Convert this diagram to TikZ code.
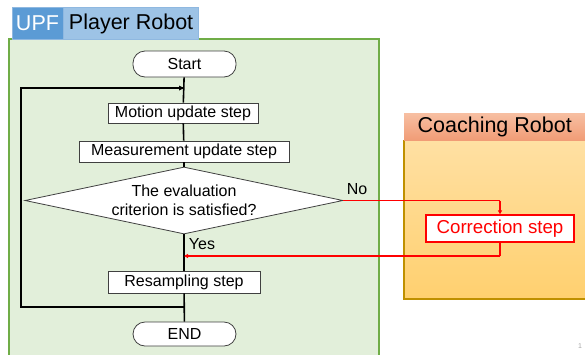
\documentclass[tikz,border=0pt]{standalone}
\usepackage{fontspec}
\setmainfont{Liberation Sans}
\usetikzlibrary{shapes.geometric,arrows.meta}
\definecolor{upfblue}{HTML}{5B9BD5}
\definecolor{upfborder}{HTML}{8FB8E0}
\definecolor{playerblue}{HTML}{9DC3E6}
\definecolor{greenfill}{HTML}{E2EFDA}
\definecolor{greenline}{HTML}{70AD47}
\definecolor{salmontop}{HTML}{F7BFA2}
\definecolor{salmonbot}{HTML}{F19C76}
\definecolor{orangetop}{HTML}{FFE0A3}
\definecolor{orangebot}{HTML}{FFD06F}
\definecolor{goldline}{HTML}{BF9000}
\definecolor{boxline}{HTML}{404040}
\definecolor{redline}{HTML}{FF0000}
\tikzset{
  mainfont/.style={font=\fontsize{16}{19.5}\selectfont},
  stepbox/.style={draw=boxline, line width=0.8pt, fill=white, inner sep=0pt, mainfont},
  termbox/.style={stepbox, rounded corners=12pt},
  flow/.style={line width=1.6pt, black},
  redflow/.style={line width=1.2pt, redline},
  tip/.style={-{Triangle[length=4pt,width=4pt]}},
}
\begin{document}
\begin{tikzpicture}[x=1pt,y=-1pt]
\useasboundingbox (0,0) rectangle (585,354);
% Player robot frame
\fill[greenfill] (9,39) rectangle (379,360);
\draw[greenline, line width=1.6pt] (9,360) -- (9,39) -- (379,39) -- (379,360);
\node[draw=upfborder, line width=0.6pt, fill=upfblue, text=white, font=\fontsize{21.5}{24}\selectfont,
      minimum width=51pt, minimum height=32pt, inner sep=0pt] (upf) at (37.5,23.5) {UPF};
\node[draw=upfborder, line width=0.6pt, fill=playerblue, text=black, font=\fontsize{21.5}{24}\selectfont,
      minimum width=135pt, minimum height=32pt, inner sep=0pt, anchor=west] (player) at (upf.east) {Player Robot};
% Coaching robot frame
\shade[top color=orangetop, bottom color=orangebot] (404,140) rectangle (585,299);
\draw[goldline, line width=1.2pt] (404,140) -- (404,299) -- (590,299);
\node[top color=salmontop, bottom color=salmonbot, font=\fontsize{21.5}{24}\selectfont,
      minimum width=181pt, minimum height=27pt, inner sep=0pt, anchor=north west] (coachhead) at (404,113) {Coaching Robot};
% Flow nodes
\node[termbox, minimum width=103pt, minimum height=26pt] (start) at (184.5,64) {Start};
\node[stepbox, minimum width=150pt, minimum height=20pt] (motion) at (183,113) {Motion update step};
\node[stepbox, minimum width=210pt, minimum height=21pt] (meas) at (184,151.5) {Measurement update step};
\node[stepbox, shape=diamond, aspect=4.75, minimum width=318pt, minimum height=67pt, align=center] (crit) at (184,200.5) {The evaluation\\criterion is satisfied?};
\node[stepbox, minimum width=152pt, minimum height=22pt] (resamp) at (184,282) {Resampling step};
\node[termbox, minimum width=103pt, minimum height=24pt] (end) at (184.5,334) {END};
\node[draw=redline, line width=1.3pt, fill=white, text=redline, font=\fontsize{18.7}{22}\selectfont,
      minimum width=148pt, minimum height=27pt, inner sep=0pt] (corr) at (500,228.5) {Correction step};
% coordinates
\coordinate (loopjoin) at (184,88);
\coordinate (loopend) at (184,307);
\coordinate (loopL) at (21,307);
\coordinate (loopT) at (21,88);
\coordinate (nocorner) at (500,200.5);
\coordinate (retcorner) at (500,256);
\coordinate (retjoin) at (184,256);
% main flow
\draw[flow] (start) -- (motion);
\draw[flow] (motion) -- (meas);
\draw[flow] (meas) -- (crit);
\draw[flow] (crit) -- (resamp);
\draw[flow] (resamp) -- (end);
\draw[flow] (loopend) -- (loopL) -- (loopT) -- (loopjoin);
\fill[black] (loopjoin) -- ++(-5,-2.5) -- ++(0,5) -- cycle;
% red correction path
\draw[redflow] (crit.east) -- (nocorner);
\draw[redflow, tip] (nocorner) -- (corr.north);
\draw[redflow] (corr.south) -- (retcorner);
\draw[redflow, tip] (retcorner) -- (retjoin);
% labels
\node[mainfont, inner sep=0pt] (nolabel) at (357,189) {No};
\node[mainfont, inner sep=0pt] (yeslabel) at (202,244) {Yes};
\node[font=\fontsize{7}{8}\selectfont, text=gray!70, inner sep=0pt] (pagenum) at (580,346) {1};
\end{tikzpicture}
\end{document}
